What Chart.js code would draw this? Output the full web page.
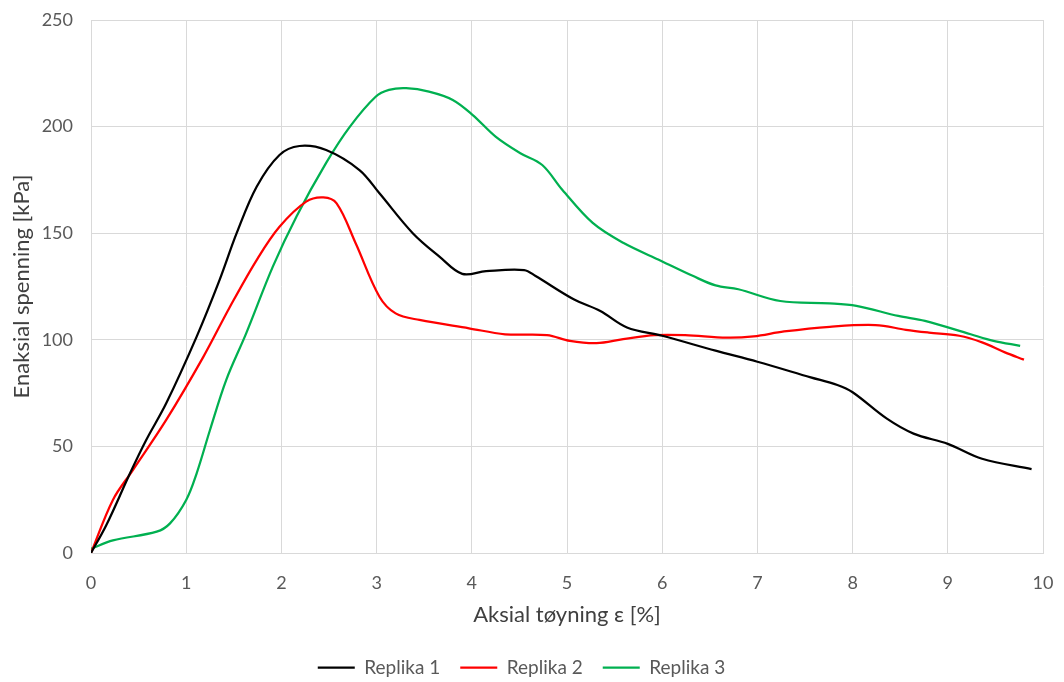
<!DOCTYPE html>
<html>
<head>
<meta charset="utf-8">
<script src="https://cdn.jsdelivr.net/npm/chart.js@4.4.1/dist/chart.umd.min.js"></script>
<style>
  html, body { margin: 0; padding: 0; background: #fff; }
  #wrap { width: 1064px; height: 682px; }
</style>
</head>
<body>
<div id="wrap"><canvas id="chart" width="1064" height="682"></canvas></div>
<script>
// strain [%] and stress [kPa]
var strain1 = [0, 0.16, 0.41, 0.58, 0.79, 1.11, 1.35, 1.53, 1.74, 1.98, 2.19, 2.47, 2.82, 3.03, 3.38, 3.66, 3.9, 4.15, 4.55, 4.67, 5.07, 5.35, 5.63, 6.0, 6.56, 7.0, 7.56, 7.84, 8.0, 8.36, 8.64, 9.0, 9.36, 9.88];
var stress1 = [0, 13, 37.4, 53, 70.2, 101.5, 128, 150, 171.8, 186.7, 190.9, 189, 179.6, 168.7, 150, 139, 130.9, 132.2, 132.7, 129.9, 119, 113.5, 105.8, 101.9, 94.9, 89.7, 82.4, 78.8, 75.4, 63, 56, 51.2, 44.2, 39.3];

var strain2 = [0, 0.23, 0.44, 0.79, 1.18, 1.46, 1.74, 1.98, 2.26, 2.44, 2.58, 2.78, 3.03, 3.2, 3.45, 3.97, 4.35, 4.79, 5.03, 5.31, 5.59, 5.92, 6.24, 6.68, 6.96, 7.28, 7.76, 8.24, 8.56, 8.8, 9.12, 9.36, 9.6, 9.8];
var stress2 = [0, 24.9, 38.9, 62.4, 92, 115.5, 137.4, 153, 164.8, 166.8, 164, 145.3, 120.2, 112.4, 109.3, 105.4, 102.6, 102.2, 99.5, 98.4, 100.3, 102.2, 102.2, 101, 101.6, 103.9, 106.1, 106.9, 104.7, 103.4, 101.9, 98.8, 94.1, 90.7];

var strain3 = [0, 0.23, 0.69, 0.83, 1.0, 1.11, 1.25, 1.42, 1.63, 1.91, 2.16, 2.47, 2.72, 2.99, 3.13, 3.31, 3.55, 3.8, 4.01, 4.25, 4.51, 4.74, 4.95, 5.27, 5.59, 5.99, 6.32, 6.56, 6.8, 7.24, 7.76, 8.04, 8.48, 8.76, 9.24, 9.48, 9.76];
var stress3 = [2, 5.9, 10, 13.9, 24.9, 37.4, 57.7, 81.1, 103, 134.3, 158, 183, 200, 214, 217.2, 218, 216.4, 212.5, 205.4, 195.3, 187.5, 182, 170.4, 154.8, 145.5, 137, 130, 125.5, 123.7, 118.2, 117.1, 115.9, 111.2, 108.9, 102.6, 99.5, 97.2];

var seriesNames = ["Replika 1", "Replika 2", "Replika 3"];
var seriesColors = ["#000000", "#ff0000", "#00b050"];

var xTicks = [0, 1, 2, 3, 4, 5, 6, 7, 8, 9, 10];
var yTicks = [0, 50, 100, 150, 200, 250];

function toPoints(xs, ys) {
  var pts = [];
  for (var i = 0; i < xs.length; i++) pts.push({ x: xs[i], y: ys[i] });
  return pts;
}

// keep tick-label overflow from pushing the plot area around
function noPad(scale) {
  scale.paddingTop = 0;
  scale.paddingBottom = 0;
  scale.paddingLeft = 0;
  scale.paddingRight = 0;
}

var FONT = "Lato, sans-serif";
var TEXT = "#595959";
var GRID = "#d9d9d9";

var allX = [strain1, strain2, strain3];
var allY = [stress1, stress2, stress3];
var datasets = [];
for (var s = 0; s < 3; s++) {
  datasets.push({
    label: seriesNames[s],
    data: toPoints(allX[s], allY[s]),
    borderColor: seriesColors[s],
    backgroundColor: seriesColors[s],
    borderWidth: 2.25,
    pointRadius: 0,
    pointStyle: 'line',
    tension: 0.35,
    fill: false
  });
}

new Chart(document.getElementById("chart"), {
  type: 'line',
  data: { datasets: datasets },
  options: {
    responsive: false,
    animation: false,
    layout: { padding: { left: 0, right: 21, top: 20, bottom: -5 } },
    plugins: {
      tooltip: { enabled: false },
      legend: {
        position: 'bottom',
        labels: {
          usePointStyle: true,
          pointStyleWidth: 37,
          padding: 20,
          color: TEXT,
          font: { family: FONT, size: 19 }
        }
      }
    },
    scales: {
      x: {
        type: 'linear',
        min: 0,
        max: 10,
        afterBuildTicks: function (scale) {
          scale.ticks = xTicks.map(function (v) { return { value: v }; });
        },
        afterFit: function (scale) { scale.height = 85; noPad(scale); },
        grid: { color: GRID, lineWidth: 1, drawTicks: false },
        border: { color: GRID },
        ticks: { color: TEXT, padding: 19, font: { family: FONT, size: 18 } },
        title: {
          display: true,
          text: "Aksial tøyning ε [%]",
          color: "#404040",
          font: { family: FONT, size: 22 },
          padding: { top: 0, bottom: 10 }
        }
      },
      y: {
        type: 'linear',
        min: 0,
        max: 250,
        afterBuildTicks: function (scale) {
          scale.ticks = yTicks.map(function (v) { return { value: v }; });
        },
        afterFit: function (scale) { scale.width = 91; noPad(scale); },
        grid: { color: GRID, lineWidth: 1, drawTicks: false },
        border: { color: GRID },
        ticks: { color: TEXT, padding: 18, font: { family: FONT, size: 18 } },
        title: {
          display: true,
          text: "Enaksial spenning [kPa]",
          color: "#404040",
          font: { family: FONT, size: 22 },
          padding: { top: 9, bottom: 0 }
        }
      }
    }
  }
});
</script>
</body>
</html>
